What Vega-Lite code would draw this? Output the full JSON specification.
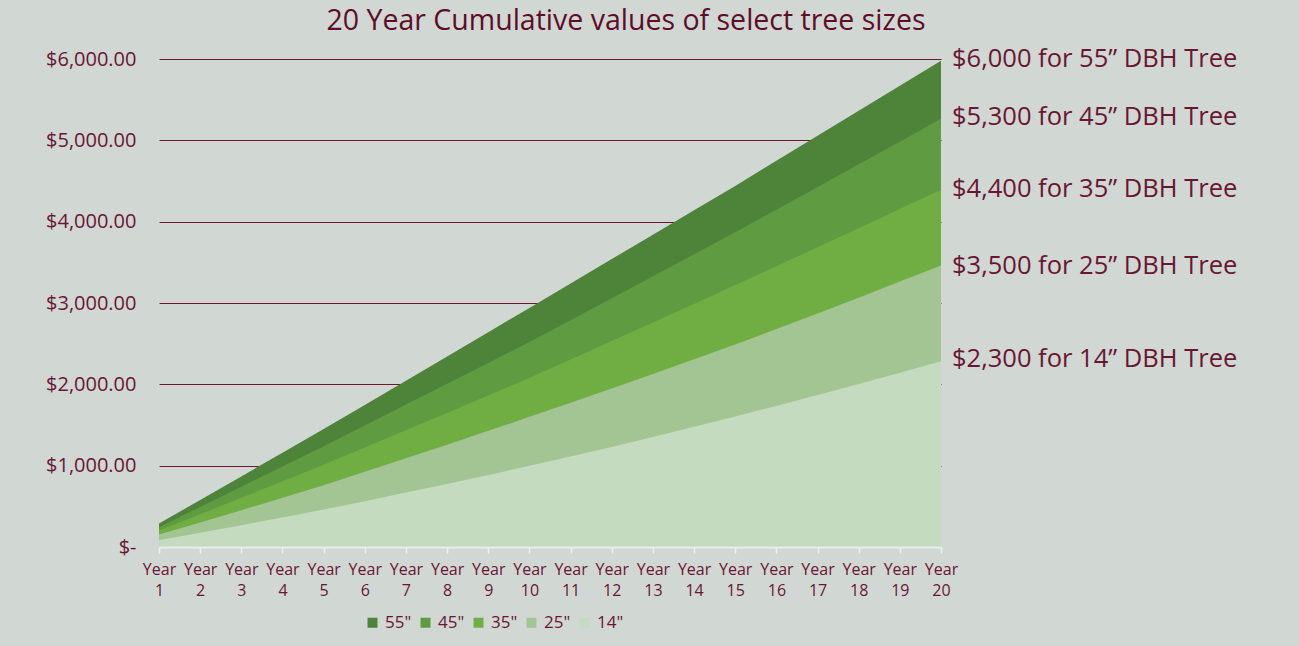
{
  "$schema": "https://vega.github.io/schema/vega-lite/v6.json",
  "width": 782,
  "height": 488,
  "autosize": "none",
  "padding": {"left": 159, "top": 59, "right": 358, "bottom": 99},
  "background": "#d1d8d3",
  "config": {
    "view": {"stroke": null},
    "font": "Open Sans",
    "text": {"font": "Open Sans"}
  },
  "title": {
    "text": "20 Year Cumulative values of select tree sizes",
    "fontSize": 28.5,
    "fontWeight": "normal",
    "font": "Open Sans",
    "color": "#5f0c2a",
    "anchor": "middle",
    "frame": "group",
    "dx": 76,
    "offset": 12
  },
  "layer": [
    {
      "data": {
        "values": [
          {"year": 1, "size": "55\"", "value": 289}, {"year": 2, "size": "55\"", "value": 578}, {"year": 3, "size": "55\"", "value": 868}, {"year": 4, "size": "55\"", "value": 1159}, {"year": 5, "size": "55\"", "value": 1450},
          {"year": 6, "size": "55\"", "value": 1747}, {"year": 7, "size": "55\"", "value": 2045}, {"year": 8, "size": "55\"", "value": 2343}, {"year": 9, "size": "55\"", "value": 2641}, {"year": 10, "size": "55\"", "value": 2940},
          {"year": 11, "size": "55\"", "value": 3240}, {"year": 12, "size": "55\"", "value": 3540}, {"year": 13, "size": "55\"", "value": 3840}, {"year": 14, "size": "55\"", "value": 4140}, {"year": 15, "size": "55\"", "value": 4440},
          {"year": 16, "size": "55\"", "value": 4748}, {"year": 17, "size": "55\"", "value": 5056}, {"year": 18, "size": "55\"", "value": 5364}, {"year": 19, "size": "55\"", "value": 5672}, {"year": 20, "size": "55\"", "value": 5980},

          {"year": 1, "size": "45\"", "value": 244}, {"year": 2, "size": "45\"", "value": 493}, {"year": 3, "size": "45\"", "value": 742}, {"year": 4, "size": "45\"", "value": 991}, {"year": 5, "size": "45\"", "value": 1240},
          {"year": 6, "size": "45\"", "value": 1495}, {"year": 7, "size": "45\"", "value": 1751}, {"year": 8, "size": "45\"", "value": 2007}, {"year": 9, "size": "45\"", "value": 2263}, {"year": 10, "size": "45\"", "value": 2521},
          {"year": 11, "size": "45\"", "value": 2789}, {"year": 12, "size": "45\"", "value": 3058}, {"year": 13, "size": "45\"", "value": 3328}, {"year": 14, "size": "45\"", "value": 3598}, {"year": 15, "size": "45\"", "value": 3870},
          {"year": 16, "size": "45\"", "value": 4147}, {"year": 17, "size": "45\"", "value": 4426}, {"year": 18, "size": "45\"", "value": 4705}, {"year": 19, "size": "45\"", "value": 4984}, {"year": 20, "size": "45\"", "value": 5264},

          {"year": 1, "size": "35\"", "value": 203}, {"year": 2, "size": "35\"", "value": 404}, {"year": 3, "size": "35\"", "value": 605}, {"year": 4, "size": "35\"", "value": 807}, {"year": 5, "size": "35\"", "value": 1010},
          {"year": 6, "size": "35\"", "value": 1222}, {"year": 7, "size": "35\"", "value": 1435}, {"year": 8, "size": "35\"", "value": 1649}, {"year": 9, "size": "35\"", "value": 1864}, {"year": 10, "size": "35\"", "value": 2079},
          {"year": 11, "size": "35\"", "value": 2305}, {"year": 12, "size": "35\"", "value": 2532}, {"year": 13, "size": "35\"", "value": 2760}, {"year": 14, "size": "35\"", "value": 2989}, {"year": 15, "size": "35\"", "value": 3220},
          {"year": 16, "size": "35\"", "value": 3452}, {"year": 17, "size": "35\"", "value": 3686}, {"year": 18, "size": "35\"", "value": 3920}, {"year": 19, "size": "35\"", "value": 4155}, {"year": 20, "size": "35\"", "value": 4392},

          {"year": 1, "size": "25\"", "value": 154}, {"year": 2, "size": "25\"", "value": 302}, {"year": 3, "size": "25\"", "value": 452}, {"year": 4, "size": "25\"", "value": 605}, {"year": 5, "size": "25\"", "value": 760},
          {"year": 6, "size": "25\"", "value": 924}, {"year": 7, "size": "25\"", "value": 1090}, {"year": 8, "size": "25\"", "value": 1258}, {"year": 9, "size": "25\"", "value": 1428}, {"year": 10, "size": "25\"", "value": 1600},
          {"year": 11, "size": "25\"", "value": 1774}, {"year": 12, "size": "25\"", "value": 1950}, {"year": 13, "size": "25\"", "value": 2128}, {"year": 14, "size": "25\"", "value": 2308}, {"year": 15, "size": "25\"", "value": 2490},
          {"year": 16, "size": "25\"", "value": 2680}, {"year": 17, "size": "25\"", "value": 2872}, {"year": 18, "size": "25\"", "value": 3066}, {"year": 19, "size": "25\"", "value": 3263}, {"year": 20, "size": "25\"", "value": 3462},

          {"year": 1, "size": "14\"", "value": 84}, {"year": 2, "size": "14\"", "value": 175}, {"year": 3, "size": "14\"", "value": 268}, {"year": 4, "size": "14\"", "value": 363}, {"year": 5, "size": "14\"", "value": 461},
          {"year": 6, "size": "14\"", "value": 564}, {"year": 7, "size": "14\"", "value": 669}, {"year": 8, "size": "14\"", "value": 776}, {"year": 9, "size": "14\"", "value": 886}, {"year": 10, "size": "14\"", "value": 998},
          {"year": 11, "size": "14\"", "value": 1113}, {"year": 12, "size": "14\"", "value": 1231}, {"year": 13, "size": "14\"", "value": 1352}, {"year": 14, "size": "14\"", "value": 1477}, {"year": 15, "size": "14\"", "value": 1605},
          {"year": 16, "size": "14\"", "value": 1735}, {"year": 17, "size": "14\"", "value": 1868}, {"year": 18, "size": "14\"", "value": 2004}, {"year": 19, "size": "14\"", "value": 2142}, {"year": 20, "size": "14\"", "value": 2283}
        ]
      },
      "mark": {"type": "area", "interpolate": "linear"},
      "encoding": {
        "x": {
          "field": "year",
          "type": "quantitative",
          "scale": {"domain": [1, 20], "nice": false, "zero": false},
          "axis": {
            "title": null,
            "values": [1, 2, 3, 4, 5, 6, 7, 8, 9, 10, 11, 12, 13, 14, 15, 16, 17, 18, 19, 20],
            "labelExpr": "['Year', datum.value]",
            "labelFont": "Open Sans",
            "labelFontSize": 16,
            "labelColor": "#6b1535",
            "labelLineHeight": 21,
            "labelPadding": 8,
            "labelFlush": false,
            "labelOverlap": false,
            "domainColor": "#e9ede9",
            "domainWidth": 2,
            "tickColor": "#eef1ee",
            "tickSize": 6,
            "tickWidth": 1.5,
            "grid": false,
            "zindex": 1
          }
        },
        "y": {
          "field": "value",
          "type": "quantitative",
          "stack": null,
          "scale": {"domain": [0, 6000], "nice": false},
          "axis": {
            "title": null,
            "values": [0, 1000, 2000, 3000, 4000, 5000, 6000],
            "labelExpr": "datum.value == 0 ? '$-' : '$' + format(datum.value, ',.2f')",
            "labelFont": "Open Sans",
            "labelFontSize": 20,
            "labelColor": "#6b1535",
            "labelPadding": 23,
            "domain": false,
            "ticks": false,
            "grid": true,
            "gridColor": {"condition": {"test": "datum.value === 0", "value": "transparent"}, "value": "#731631"},
            "gridWidth": 1.2,
            "gridOpacity": 1
          }
        },
        "color": {
          "field": "size",
          "type": "nominal",
          "sort": null,
          "scale": {
            "domain": ["55\"", "45\"", "35\"", "25\"", "14\""],
            "range": ["#4e833a", "#5f9c41", "#70ae44", "#a3c593", "#c4dbbf"]
          },
          "legend": {
            "title": null,
            "orient": "none",
            "direction": "horizontal",
            "legendX": 205,
            "legendY": 555,
            "symbolType": "square",
            "symbolSize": 100,
            "symbolStrokeWidth": 0,
            "symbolOpacity": 1,
            "labelFont": "Open Sans",
            "labelFontSize": 17,
            "labelColor": "#6b1535",
            "labelOffset": 4,
            "columnPadding": 5
          }
        }
      }
    },
    {
      "data": {
        "values": [
          {"year": 20, "pos": 6000, "label": "$6,000 for 55” DBH Tree"},
          {"year": 20, "pos": 5290, "label": "$5,300 for 45” DBH Tree"},
          {"year": 20, "pos": 4400, "label": "$4,400 for 35” DBH Tree"},
          {"year": 20, "pos": 3460, "label": "$3,500 for 25” DBH Tree"},
          {"year": 20, "pos": 2310, "label": "$2,300 for 14” DBH Tree"}
        ]
      },
      "mark": {"type": "text", "align": "left", "baseline": "middle", "dx": 11, "fontSize": 25.5, "font": "Open Sans", "color": "#6b1535"},
      "encoding": {
        "x": {"field": "year", "type": "quantitative"},
        "y": {"field": "pos", "type": "quantitative"},
        "text": {"field": "label"}
      }
    }
  ]
}
